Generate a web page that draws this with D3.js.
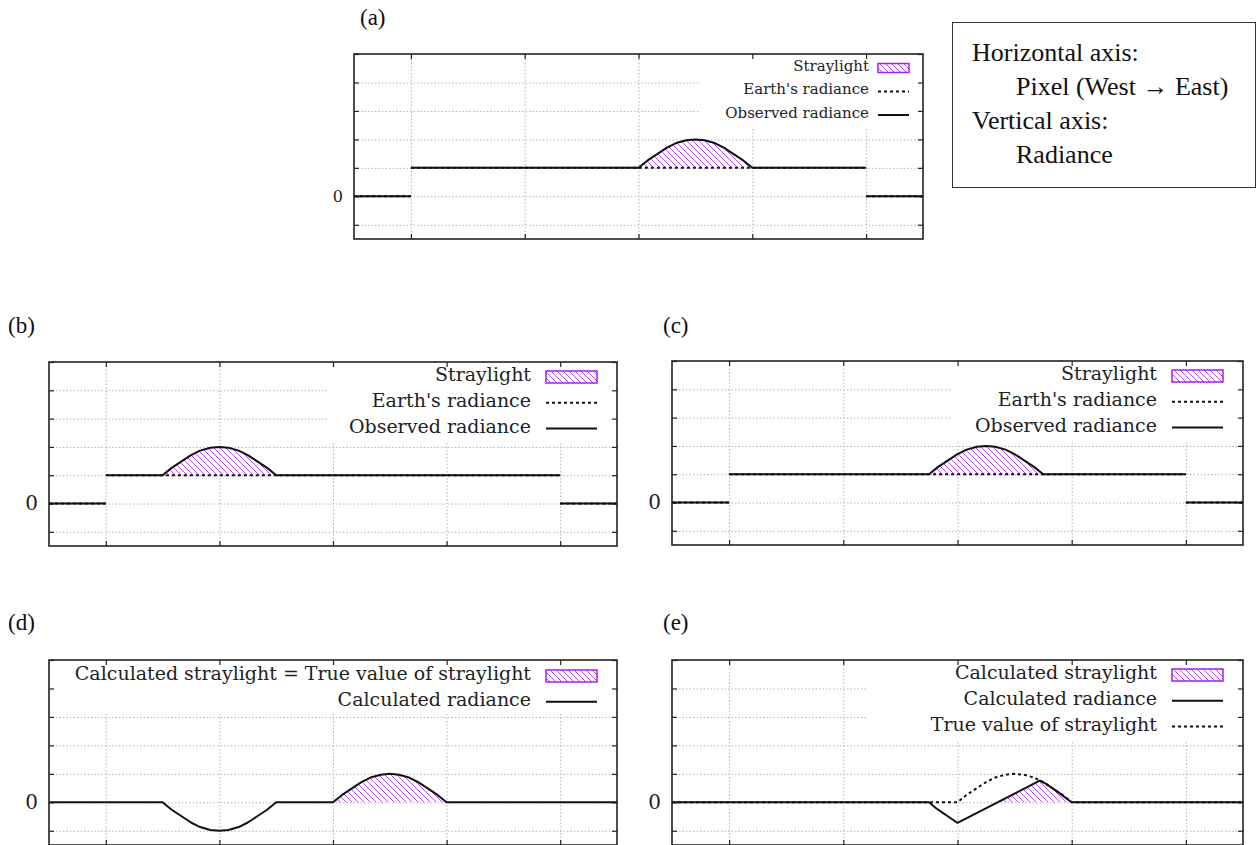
<!DOCTYPE html>
<html>
<head>
<meta charset="utf-8">
<script src="https://cdn.jsdelivr.net/npm/d3@7"></script>
<style>
  html, body { margin: 0; padding: 0; background: #fff; }
  svg { display: block; }
</style>
</head>
<body>
<svg id="fig" width="1259" height="845"></svg>
<script>
// ---- shared axes ----
const xDomain = [0.5, 5.5];
const yDomain = [-1.5, 5];
const xTicks = [1, 2, 3, 4, 5];
const yTicks = [-1, 0, 1, 2, 3, 4, 5];

// ---- (a) straylight hump in the middle-east part of the swath ----
const aObserved = [[0.5,0],[1,0],null,[1,1],[3,1],[3.08,1.26],[3.17,1.5],[3.25,1.71],[3.33,1.87],[3.42,1.97],[3.5,2],[3.58,1.97],[3.67,1.87],[3.75,1.71],[3.83,1.5],[3.92,1.26],[4,1],[5,1],null,[5,0],[5.5,0]];
const aEarth = [[0.5,0],[1,0],null,[1,1],[5,1],null,[5,0],[5.5,0]];
const aStray = [[3,1,1],[3.08,1,1.26],[3.17,1,1.5],[3.25,1,1.71],[3.33,1,1.87],[3.42,1,1.97],[3.5,1,2],[3.58,1,1.97],[3.67,1,1.87],[3.75,1,1.71],[3.83,1,1.5],[3.92,1,1.26],[4,1,1]];

// ---- (b) hump on the west side ----
const bObserved = [[0.5,0],[1,0],null,[1,1],[1.5,1],[1.58,1.26],[1.67,1.5],[1.75,1.71],[1.83,1.87],[1.92,1.97],[2,2],[2.08,1.97],[2.17,1.87],[2.25,1.71],[2.33,1.5],[2.42,1.26],[2.5,1],[5,1],null,[5,0],[5.5,0]];
const bEarth = [[0.5,0],[1,0],null,[1,1],[5,1],null,[5,0],[5.5,0]];
const bStray = [[1.5,1,1],[1.58,1,1.26],[1.67,1,1.5],[1.75,1,1.71],[1.83,1,1.87],[1.92,1,1.97],[2,1,2],[2.08,1,1.97],[2.17,1,1.87],[2.25,1,1.71],[2.33,1,1.5],[2.42,1,1.26],[2.5,1,1]];

// ---- (c) hump slightly west of (a) ----
const cObserved = [[0.5,0],[1,0],null,[1,1],[2.75,1],[2.83,1.26],[2.92,1.5],[3,1.71],[3.08,1.87],[3.17,1.97],[3.25,2],[3.33,1.97],[3.42,1.87],[3.5,1.71],[3.58,1.5],[3.67,1.26],[3.75,1],[5,1],null,[5,0],[5.5,0]];
const cEarth = [[0.5,0],[1,0],null,[1,1],[5,1],null,[5,0],[5.5,0]];
const cStray = [[2.75,1,1],[2.83,1,1.26],[2.92,1,1.5],[3,1,1.71],[3.08,1,1.87],[3.17,1,1.97],[3.25,1,2],[3.33,1,1.97],[3.42,1,1.87],[3.5,1,1.71],[3.58,1,1.5],[3.67,1,1.26],[3.75,1,1]];

// ---- (d) calculated straylight equal to the true value ----
const dRadiance = [[0.5,0],[1.5,0],[1.58,-0.26],[1.67,-0.5],[1.75,-0.71],[1.83,-0.87],[1.92,-0.97],[2,-1],[2.08,-0.97],[2.17,-0.87],[2.25,-0.71],[2.33,-0.5],[2.42,-0.26],[2.5,0],[3,0],[3.08,0.26],[3.17,0.5],[3.25,0.71],[3.33,0.87],[3.42,0.97],[3.5,1],[3.58,0.97],[3.67,0.87],[3.75,0.71],[3.83,0.5],[3.92,0.26],[4,0],[5.5,0]];
const dStray = [[3,0,0],[3.08,0,0.26],[3.17,0,0.5],[3.25,0,0.71],[3.33,0,0.87],[3.42,0,0.97],[3.5,0,1],[3.58,0,0.97],[3.67,0,0.87],[3.75,0,0.71],[3.83,0,0.5],[3.92,0,0.26],[4,0,0]];

// ---- (e) calculated straylight shifted from the true value ----
const eRadiance = [[0.5,0],[2.75,0],[2.81,-0.2],[2.875,-0.38],[2.94,-0.56],[3,-0.72],[3.72,0.76],[3.78,0.64],[3.83,0.5],[3.89,0.33],[3.94,0.18],[4,0],[5.5,0]];
const eTrue = [[0.5,0],[3,0],[3.08,0.26],[3.17,0.5],[3.25,0.71],[3.33,0.87],[3.42,0.97],[3.5,1],[3.58,0.97],[3.67,0.87],[3.75,0.71],[3.83,0.5],[3.92,0.26],[4,0],[5.5,0]];
const eStray = [[3.35,0,0],[3.72,0,0.76],[3.78,0,0.64],[3.83,0,0.5],[3.89,0,0.33],[3.94,0,0.18],[4,0,0]];

// ---- legend texts ----
const legendABC = ["Straylight", "Earth's radiance", "Observed radiance"];
const legendD = ["Calculated straylight = True value of straylight", "Calculated radiance"];
const legendE = ["Calculated straylight", "Calculated radiance", "True value of straylight"];

const noteLines = ["Horizontal axis:", "Pixel (West \u2192 East)", "Vertical axis:", "Radiance"];

const svg = d3.select("#fig");
const PURPLE = "#a020f0";
const SERIF = "'DejaVu Serif', serif";
const TIMES = "'Liberation Serif', 'Times New Roman', serif";

// hatch pattern for the straylight areas
const defs = svg.append("defs");
const pat = defs.append("pattern")
  .attr("id", "hatch").attr("patternUnits", "userSpaceOnUse")
  .attr("width", 6).attr("height", 6);
pat.append("path")
  .attr("d", "M0,0 L6,6 M-1,5 L1,7 M5,-1 L7,1")
  .attr("stroke", PURPLE).attr("stroke-width", 1).attr("stroke-opacity", 0.8);

const panels = [
  { tag: "(a)", tagX: 360, tagY: 25, left: 354, top: 54, w: 569, h: 185,
    font: 15, rowTop: 14, rowGap: 23.5, textGap: 54, sampleR: 14, sampleW: 31, sampleH: 9,
    boxLeft: 700, boxH: 74,
    legend: legendABC, kinds: ["fill", "dot", "solid"],
    fills: [aStray], dots: [aEarth], solids: [aObserved] },
  { tag: "(b)", tagX: 8, tagY: 333, left: 49, top: 362, w: 568, h: 184,
    font: 19, rowTop: 15, rowGap: 25.8, textGap: 86, sampleR: 20, sampleW: 51, sampleH: 12,
    boxLeft: 328, boxH: 79,
    legend: legendABC, kinds: ["fill", "dot", "solid"],
    fills: [bStray], dots: [bEarth], solids: [bObserved] },
  { tag: "(c)", tagX: 663, tagY: 333, left: 672, top: 361, w: 571, h: 184,
    font: 19, rowTop: 15, rowGap: 25.8, textGap: 86, sampleR: 20, sampleW: 51, sampleH: 12,
    boxLeft: 952, boxH: 80,
    legend: legendABC, kinds: ["fill", "dot", "solid"],
    fills: [cStray], dots: [cEarth], solids: [cObserved] },
  { tag: "(d)", tagX: 8, tagY: 630, left: 49, top: 660, w: 568, h: 185,
    font: 19, rowTop: 16, rowGap: 25.8, textGap: 86, sampleR: 20, sampleW: 51, sampleH: 12,
    boxLeft: 49, boxH: 53,
    legend: legendD, kinds: ["fill", "solid"],
    fills: [dStray], dots: [], solids: [dRadiance] },
  { tag: "(e)", tagX: 663, tagY: 630, left: 672, top: 660, w: 571, h: 185,
    font: 19, rowTop: 15, rowGap: 25.8, textGap: 86, sampleR: 20, sampleW: 51, sampleH: 12,
    boxLeft: 868, boxH: 81,
    legend: legendE, kinds: ["fill", "solid", "dot"],
    fills: [eStray], dots: [eTrue], solids: [eRadiance] }
];

panels.forEach(p => {
  const x = d3.scaleLinear().domain(xDomain).range([p.left, p.left + p.w]);
  const y = d3.scaleLinear().domain(yDomain).range([p.top + p.h, p.top]);
  const g = svg.append("g");

  // panel tag
  svg.append("text").attr("x", p.tagX).attr("y", p.tagY)
    .attr("font-family", TIMES).attr("font-size", 23).attr("fill", "#111")
    .text(p.tag);

  // grid
  const grid = g.append("g");
  grid.append("g").attr("transform", `translate(0,${p.top + p.h})`)
    .call(d3.axisBottom(x).tickValues(xTicks).tickSize(-p.h).tickFormat(""))
    .call(s => s.select(".domain").remove());
  grid.append("g").attr("transform", `translate(${p.left},0)`)
    .call(d3.axisLeft(y).tickValues(yTicks.filter(v => v !== 5)).tickSize(-p.w).tickFormat(""))
    .call(s => s.select(".domain").remove());
  grid.selectAll("line").attr("stroke", "#b4b4b4").attr("stroke-width", 1)
    .attr("stroke-dasharray", "1.5,2");

  // opaque key area hides the grid beneath it
  const right = p.left + p.w;
  g.append("rect").attr("x", p.boxLeft).attr("y", p.top)
    .attr("width", right - p.boxLeft).attr("height", p.boxH).attr("fill", "#fff");

  // inward tick marks on all four sides
  const T = 5;
  const tk = g.append("g");
  tk.append("g").attr("transform", `translate(0,${p.top + p.h})`)
    .call(d3.axisBottom(x).tickValues(xTicks).tickSize(-T).tickFormat(""));
  tk.append("g").attr("transform", `translate(0,${p.top})`)
    .call(d3.axisTop(x).tickValues(xTicks).tickSize(-T).tickFormat(""));
  tk.append("g").attr("transform", `translate(${right},0)`)
    .call(d3.axisRight(y).tickValues(yTicks).tickSize(-T).tickFormat(""));
  const leftAxis = tk.append("g").attr("transform", `translate(${p.left},0)`)
    .call(d3.axisLeft(y).tickValues(yTicks).tickSize(-T).tickPadding(11)
      .tickFormat(d => d === 0 ? "0" : ""));
  tk.selectAll(".domain").remove();
  tk.selectAll("line").attr("stroke", "#222").attr("stroke-width", 1.2);
  leftAxis.selectAll("text").attr("font-family", SERIF).attr("font-size", p.font + 1)
    .attr("fill", "#222");

  // series
  const area = d3.area().defined(d => d !== null)
    .x(d => x(d[0])).y0(d => y(d[1])).y1(d => y(d[2]));
  const line = d3.line().defined(d => d !== null)
    .x(d => x(d[0])).y(d => y(d[1]));

  p.fills.forEach(s => g.append("path").attr("d", area(s)).attr("fill", "url(#hatch)"));
  p.dots.forEach(s => g.append("path").attr("d", line(s)).attr("fill", "none")
    .attr("stroke", "#111").attr("stroke-width", 2).attr("stroke-dasharray", "3,3"));
  p.solids.forEach(s => g.append("path").attr("d", line(s)).attr("fill", "none")
    .attr("stroke", "#111").attr("stroke-width", 2).attr("stroke-linejoin", "round"));

  // frame
  g.append("rect").attr("x", p.left).attr("y", p.top).attr("width", p.w).attr("height", p.h)
    .attr("fill", "none").attr("stroke", "#222").attr("stroke-width", 1.6);

  // key
  const sx1 = right - p.sampleR, sx0 = sx1 - p.sampleW;
  p.legend.forEach((label, i) => {
    const ry = p.top + p.rowTop + i * p.rowGap;
    g.append("text").attr("x", right - p.textGap).attr("y", ry + p.font * 0.33 - 2)
      .attr("text-anchor", "end").attr("font-family", SERIF).attr("font-size", p.font)
      .attr("fill", "#222").text(label);
    const kind = p.kinds[i];
    if (kind === "fill") {
      g.append("rect").attr("x", sx0).attr("y", ry - p.sampleH / 2)
        .attr("width", p.sampleW).attr("height", p.sampleH)
        .attr("fill", "url(#hatch)").attr("stroke", PURPLE).attr("stroke-width", 1.5);
    } else {
      g.append("line").attr("x1", sx0).attr("x2", sx1).attr("y1", ry).attr("y2", ry)
        .attr("stroke", "#111").attr("stroke-width", 2)
        .attr("stroke-dasharray", kind === "dot" ? "3,3" : null);
    }
  });
});

// axis description box
const note = svg.append("g");
note.append("rect").attr("x", 952.5).attr("y", 22.5).attr("width", 303).attr("height", 165)
  .attr("fill", "#fff").attr("stroke", "#333").attr("stroke-width", 1);
noteLines.forEach((t, i) => {
  note.append("text").attr("x", i % 2 === 0 ? 972 : 1016).attr("y", 61 + i * 34)
    .attr("font-family", TIMES).attr("font-size", 26).attr("fill", "#111").text(t);
});
</script>
</body>
</html>
